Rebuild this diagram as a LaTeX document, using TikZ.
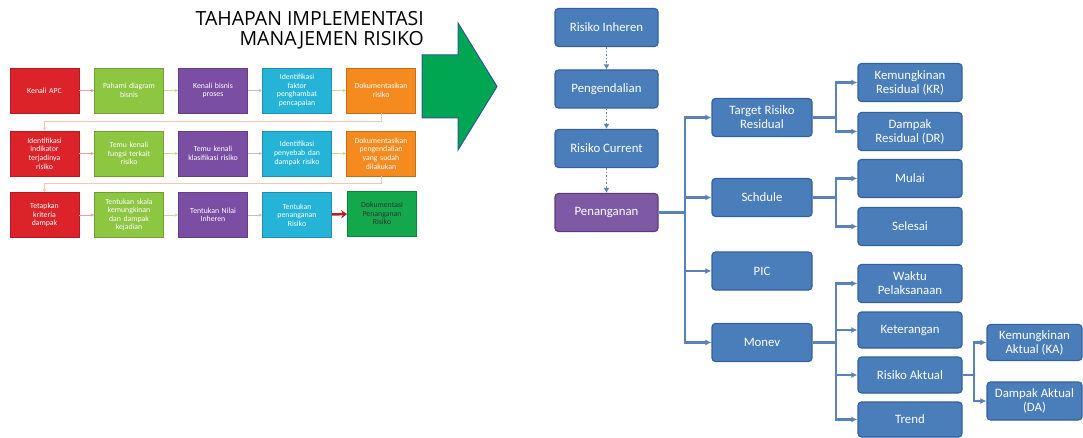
\documentclass[tikz,border=0pt]{standalone}
\usepackage{fontspec}
\setmainfont{Carlito}
\newfontfamily\titlefont{Open Sans}
\usetikzlibrary{arrows.meta}
\definecolor{cred}{HTML}{DB2329}
\definecolor{cgreen}{HTML}{8DC641}
\definecolor{cpurple}{HTML}{7A4EA3}
\definecolor{ccyan}{HTML}{25B4D7}
\definecolor{corange}{HTML}{F58A1F}
\definecolor{cdgreen}{HTML}{12A84B}
\definecolor{rblue}{HTML}{4A7EBB}
\definecolor{rbdark}{HTML}{36609A}
\definecolor{ppurple}{HTML}{7E5AA5}
\definecolor{ppdark}{HTML}{5A3D80}
\definecolor{cline}{HTML}{5A82B6}
\definecolor{wrapc}{HTML}{F2C7B0}
\definecolor{agreen}{HTML}{00A651}
\definecolor{aedge}{HTML}{2E5597}
\tikzset{
  lbox/.style={draw=#1!80!black, line width=0.6pt, fill=#1, text=white,
    minimum width=69pt, minimum height=45pt, text width=64pt, align=center,
    inner sep=1pt, font=\fontsize{7.8}{8.6}\selectfont},
  larr/.style={draw=#1, line width=0.9pt, -{Stealth[length=3.5pt,width=3.5pt]}},
  wrapline/.style={draw=wrapc, line width=0.9pt, -{Stealth[length=3.5pt,width=3.5pt]}},
  rbox/.style={draw=rbdark, line width=1.2pt, fill=rblue, rounded corners=3.5pt,
    text=white, align=center, inner sep=1pt, minimum height=#1,
    font=\fontsize{12.8}{14}\selectfont},
  rbox/.default=38pt,
  carr/.style={draw=cline, line width=2.2pt, -{Latex[length=6pt,width=6pt]}},
  dotarr/.style={draw=cline, line width=1.6pt, dotted, -{Latex[length=5pt,width=6pt]}}
}
\begin{document}
\hyphenpenalty=10000
\exhyphenpenalty=10000
\begin{tikzpicture}[x=1pt,y=-1pt]
\useasboundingbox (0,0) rectangle (1083,438);
% title
\node[anchor=north east, align=right, inner sep=0pt,
  font=\titlefont\fontsize{19.5}{20}\selectfont, text=black] (title) at (424,11)
  {TAHAPAN IMPLEMENTASI\\MANAJEMEN RISIKO};
% big arrow
\fill[agreen, draw=aedge, line width=1pt] (422,55) -- (458,55) -- (458,23) -- (497,86.5)
  -- (458,150) -- (458,118) -- (422,118) -- cycle;
% row 1
\node[lbox=cred] (a1) at (44.5,90.5) {Kenali APC};
\node[lbox=cgreen] (a2) at (129,90.5) {Pahami diagram\\bisnis};
\node[lbox=cpurple] (a3) at (213,90.5) {Kenali bisnis\\proses};
\node[lbox=ccyan] (a4) at (297,90.5) {Identifikasi\\faktor\\penghambat\\pencapaian};
\node[lbox=corange] (a5) at (381,90.5) {Dokumentasikan\\risiko};
% row 2
\node[lbox=cred] (b1) at (44.5,153.5) {Identifikasi\\indikator\\terjadinya\\risiko};
\node[lbox=cgreen] (b2) at (129,153.5) {Temu kenali\\fungsi terkait\\risiko};
\node[lbox=cpurple] (b3) at (213,153.5) {Temu kenali\\klasifikasi risiko};
\node[lbox=ccyan] (b4) at (297,153.5) {Identifikasi\\penyebab dan\\dampak risiko};
\node[lbox=corange] (b5) at (381,153.5) {Dokumentasikan\\pengendalian\\yang sudah\\dilakukan};
% row 3
\node[lbox=cred] (c1) at (44.5,215) {Tetapkan\\kriteria\\dampak};
\node[lbox=cgreen] (c2) at (129,215) {Tentukan skala\\kemungkinan\\dan dampak\\kejadian};
\node[lbox=cpurple] (c3) at (213,215) {Tentukan Nilai\\Inheren};
\node[lbox=ccyan] (c4) at (297,215) {Tentukan\\penanganan\\Risiko};
\node[lbox=cdgreen, text=black!80] (c5) at (382,213.5) {Dokumentasi\\Penanganan\\Risiko};
% left connectors
\draw[larr=cred!45] (a1) -- (a2);
\draw[larr=cgreen!55] (a2) -- (a3);
\draw[larr=cpurple!40] (a3) -- (a4);
\draw[larr=cgreen!55] (a4) -- (a5);
\draw[larr=cred!45] (b1) -- (b2);
\draw[larr=cgreen!55] (b2) -- (b3);
\draw[larr=cpurple!40] (b3) -- (b4);
\draw[larr=cgreen!55] (b4) -- (b5);
\draw[larr=cred!45] (c1) -- (c2);
\draw[larr=cgreen!55] (c2) -- (c3);
\draw[larr=cpurple!40] (c3) -- (c4);
\draw[draw=cred!85!black, line width=2.5pt, -{Stealth[length=6pt,width=8pt]}] (c4) -- (c5);
\draw[wrapline] (a5.south) -- ++(0,8) -| (b1.north);
\draw[wrapline] (b5.south) -- ++(0,7) -| (c1.north);
% right column 1
\node[rbox, minimum width=103pt] (ri) at (606.5,27.5) {Risiko Inheren};
\node[rbox, minimum width=103pt] (pg) at (606.5,89) {Pengendalian};
\node[rbox, minimum width=103pt] (rc) at (606.5,148.5) {Risiko Current};
\node[rbox, minimum width=103pt, fill=ppurple, draw=ppdark] (pn) at (606.5,212.5) {Penanganan};
\draw[dotarr] (ri) -- (pg);
\draw[dotarr] (pg) -- (rc);
\draw[dotarr] (rc) -- (pn);
% level 2
\node[rbox, minimum width=100pt] (tr) at (762,117.5) {Target Risiko\\Residual};
\node[rbox, minimum width=100pt] (sc) at (762,197.5) {Schdule};
\node[rbox, minimum width=100pt] (pic) at (762,271) {PIC};
\node[rbox, minimum width=100pt] (mv) at (762,342.5) {Monev};
\draw[carr] (pn.east) -- ++(26,0) |- (tr.west);
\draw[carr] (pn.east) -- ++(26,0) |- (sc.west);
\draw[carr] (pn.east) -- ++(26,0) |- (pic.west);
\draw[carr] (pn.east) -- ++(26,0) |- (mv.west);
\draw[draw=cline, line width=3.6pt] (pn.east) -- ++(26,0);
% level 3
\node[rbox, minimum width=104pt] (kr) at (910,82.5) {Kemungkinan\\Residual (KR)};
\node[rbox, minimum width=104pt] (dr) at (910,131.5) {Dampak\\Residual (DR)};
\node[rbox, minimum width=104pt] (mu) at (910,178.5) {Mulai};
\node[rbox, minimum width=104pt] (se) at (910,226.5) {Selesai};
\node[rbox, minimum width=104pt] (wp) at (910,283.5) {Waktu\\Pelaksanaan};
\node[rbox=36pt, minimum width=104pt] (kt) at (910,330) {Keterangan};
\node[rbox=36pt, minimum width=104pt] (ra) at (910,375) {Risiko Aktual};
\node[rbox=35pt, minimum width=104pt] (td) at (910,419.5) {Trend};
\draw[carr] (tr.east) -- ++(23,0) |- (kr.west);
\draw[carr] (tr.east) -- ++(23,0) |- (dr.west);
\draw[carr] (sc.east) -- ++(23,0) |- (mu.west);
\draw[carr] (sc.east) -- ++(23,0) |- (se.west);
\draw[carr] (mv.east) -- ++(23,0) |- (wp.west);
\draw[carr] (mv.east) -- ++(23,0) |- (kt.west);
\draw[carr] (mv.east) -- ++(23,0) |- (ra.west);
\draw[carr] (mv.east) -- ++(23,0) |- (td.west);
% level 4
\node[rbox=36pt, minimum width=95pt] (ka) at (1034.5,342.5) {Kemungkinan\\Aktual (KA)};
\node[rbox, minimum width=95pt] (da) at (1034.5,401) {Dampak Aktual\\(DA)};
\draw[carr] (ra.east) -- ++(11,0) |- (ka.west);
\draw[carr] (ra.east) -- ++(11,0) |- (da.west);
\end{tikzpicture}
\end{document}
